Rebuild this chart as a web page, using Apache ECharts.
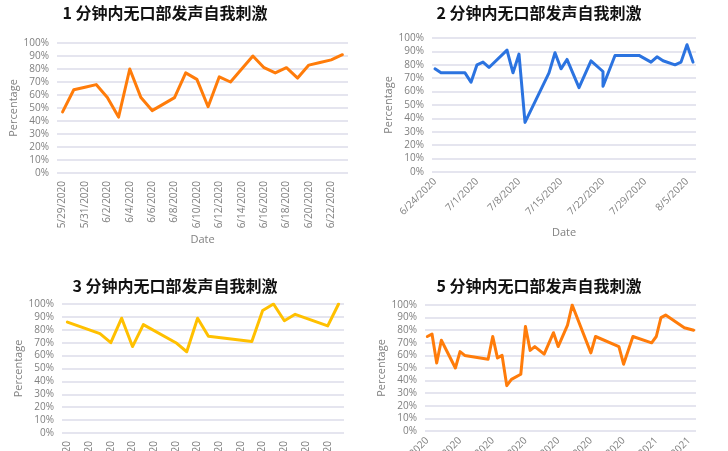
<!DOCTYPE html>
<html>
<head>
<meta charset="utf-8">
<script src="https://cdn.jsdelivr.net/npm/echarts@6/dist/echarts.min.js"></script>
<style>
  html, body { margin: 0; padding: 0; background: #fff; }
  #chart { width: 728px; height: 451px; }
</style>
</head>
<body>
<div id="chart"></div>
<script>
// 四个小图的数据（日期 + 百分比）
var titles = ['1 分钟内无口部发声自我刺激', '2 分钟内无口部发声自我刺激',
              '3 分钟内无口部发声自我刺激', '5 分钟内无口部发声自我刺激'];

var dates1 = ['5/29/2020','5/30/2020','5/31/2020','6/1/2020','6/2/2020','6/3/2020','6/4/2020',
  '6/5/2020','6/6/2020','6/7/2020','6/8/2020','6/9/2020','6/10/2020','6/11/2020','6/12/2020',
  '6/13/2020','6/14/2020','6/15/2020','6/16/2020','6/17/2020','6/18/2020','6/19/2020',
  '6/20/2020','6/21/2020','6/22/2020','6/23/2020'];
var values1 = [47,64,66,68,58,43,80,58,48,53,58,77,72,51,74,70,80,90,81,77,81,73,83,85,87,91];

var dates2 = ['6/24/2020','6/25/2020','6/29/2020','6/30/2020','7/1/2020','7/2/2020','7/3/2020',
  '7/6/2020','7/7/2020','7/8/2020','7/9/2020','7/13/2020','7/14/2020','7/15/2020','7/16/2020',
  '7/18/2020','7/20/2020','7/22/2020','7/22/2020','7/24/2020','7/28/2020','7/30/2020',
  '7/31/2020','8/1/2020','8/3/2020','8/4/2020','8/5/2020','8/6/2020'];
var values2 = [77,74,74,67,80,82,78,91,74,88,37,74,89,77,84,63,83,75,64,87,87,82,86,83,80,82,95,82];

var dates3 = ['8/7/2020','8/10/2020','8/11/2020','8/12/2020','8/13/2020','8/14/2020','8/17/2020',
  '8/18/2020','8/19/2020','8/20/2020','8/24/2020','8/25/2020','8/26/2020','8/27/2020',
  '8/28/2020','8/31/2020','9/1/2020'];
var values3 = [86,77,70,89,67,84,70,63,89,75,71,95,100,87,92,83,100];

var dates5 = ['11/16/2020','11/17/2020','11/18/2020','11/19/2020','11/22/2020','11/23/2020',
  '11/24/2020','11/29/2020','11/30/2020','12/1/2020','12/2/2020','12/3/2020','12/4/2020',
  '12/6/2020','12/7/2020','12/8/2020','12/9/2020','12/11/2020','12/13/2020','12/14/2020',
  '12/16/2020','12/17/2020','12/21/2020','12/22/2020','12/27/2020','12/28/2020','12/30/2020',
  '1/3/2021','1/4/2021','1/5/2021','1/6/2021','1/10/2021','1/12/2021'];
var values5 = [75,77,54,72,50,63,60,57,75,58,60,36,41,45,83,64,67,61,78,67,84,100,62,75,67,53,
  75,70,75,90,92,82,80];

var percentTicks = [0,10,20,30,40,50,60,70,80,90,100];
var lineColors = ['#ff7c0a', '#2b73e0', '#ffc000', '#ff7c0a'];

// 连续日期作为类目轴（Excel 日期轴的效果）
function dayRange(y, m, d, n) {
  var out = [];
  for (var i = 0; i < n; i++) {
    var dt = new Date(y, m - 1, d + i);
    out.push((dt.getMonth() + 1) + '/' + dt.getDate() + '/' + dt.getFullYear());
  }
  return out;
}
function pairs(ds, vs) {
  return ds.map(function (d, i) { return [d, vs[i]]; });
}

var cats = [
  dayRange(2020, 5, 29, 26),
  dayRange(2020, 6, 24, 44),
  dayRange(2020, 8, 7, 26),
  dayRange(2020, 11, 16, 58)
];
var seriesData = [pairs(dates1, values1), pairs(dates2, values2),
                  pairs(dates3, values3), pairs(dates5, values5)];

var grids = [
  { left: 57, top: 43, width: 291, height: 130 },
  { left: 432, top: 38, width: 264, height: 134 },
  { left: 62, top: 304, width: 282, height: 129 },
  { left: 425, top: 305, width: 271, height: 126 }
].map(function (g) {
  g.containLabel = false;
  g.outerBoundsMode = 'none';
  return g;
});
var titlePos = [[160, 0], [534, 0], [170, 273], [534, 273]];
var labelRotate = [90, 45, 90, 45];
var labelInterval = [1, 6, 1, 6];
var yNameGap = [38, 34, 37, 37];

var gray = '#808080';
var font = 'Open Sans';

var myChart = echarts.init(document.getElementById('chart'));

var option = {
  backgroundColor: '#fff',
  animation: false,
  title: titles.map(function (t, i) {
    return {
      text: t,
      left: titlePos[i][0],
      top: titlePos[i][1],
      textAlign: 'center',
      textStyle: { fontFamily: 'Noto Sans CJK SC', fontWeight: 'bold', fontSize: 16, color: '#111' }
    };
  }),
  grid: grids,
  xAxis: cats.map(function (c, i) {
    return {
      type: 'category',
      gridIndex: i,
      data: c,
      boundaryGap: true,
      name: i < 2 ? 'Date' : '',
      nameLocation: 'middle',
      nameGap: i === 0 ? 61 : 55,
      nameTextStyle: { color: gray, fontSize: 11, fontFamily: font },
      axisLine: { show: false },
      axisTick: { show: false },
      axisLabel: {
        interval: labelInterval[i],
        rotate: labelRotate[i],
        margin: 8,
        color: gray,
        fontSize: 10,
        fontFamily: font,
        hideOverlap: false
      },
      splitLine: { show: false }
    };
  }),
  yAxis: grids.map(function (g, i) {
    return {
      type: 'value',
      gridIndex: i,
      min: percentTicks[0],
      max: percentTicks[percentTicks.length - 1],
      interval: 10,
      name: 'Percentage',
      nameLocation: 'middle',
      nameGap: yNameGap[i],
      nameTextStyle: { color: gray, fontSize: 11, fontFamily: font },
      axisLine: { show: false },
      axisTick: { show: false },
      axisLabel: {
        formatter: '{value}%', color: gray, fontSize: 10, fontFamily: font, margin: 8,
        showMinLabel: true, showMaxLabel: true, hideOverlap: false
      },
      splitLine: { lineStyle: { color: '#dcdcea', width: 1.5 } }
    };
  }),
  series: seriesData.map(function (d, i) {
    return {
      type: 'line',
      xAxisIndex: i,
      yAxisIndex: i,
      data: d,
      showSymbol: false,
      lineStyle: { color: lineColors[i], width: 3, join: 'round', cap: 'round' },
      itemStyle: { color: lineColors[i] }
    };
  })
};

myChart.setOption(option);
</script>
</body>
</html>
